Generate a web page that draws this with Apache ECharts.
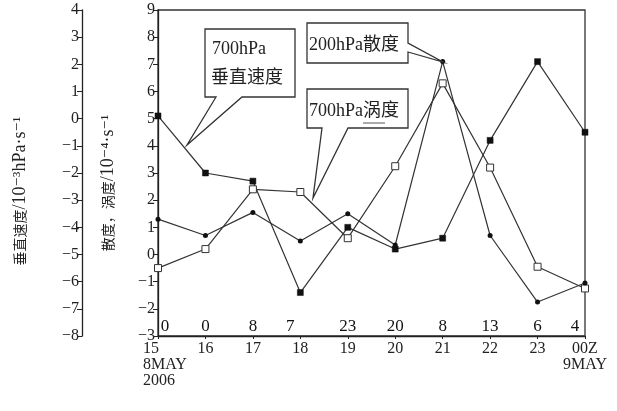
<!DOCTYPE html>
<html>
<head>
<meta charset="utf-8">
<script src="https://cdn.jsdelivr.net/npm/echarts@6/dist/echarts.min.js"></script>
<style>
html,body{margin:0;padding:0;background:#fff;}
#c{width:617px;height:411px;}
</style>
</head>
<body>
<div id="c"></div>
<script>
// ---- data ----
var categories = ['15','16','17','18','19','20','21','22','23','00Z'];
var dateNotes = ['8MAY\n2006','','','','','','','','','9MAY'];
// 700hPa vertical velocity (10^-3 hPa/s), left axis
var vertVel = [0.1, -2.0, -2.3, -6.4, -4.0, -4.8, -4.4, -0.8, 2.1, -0.5];
// 700hPa vorticity (10^-4 /s)
var vort700 = [-0.5, 0.2, 2.4, 2.3, 0.6, 3.25, 6.3, 3.2, -0.45, -1.25];
// 200hPa divergence (10^-4 /s)
var div200 = [1.3, 0.7, 1.55, 0.5, 1.5, 0.35, 7.1, 0.7, -1.75, -1.05];
// numbers printed along the bottom of the plot
var bottomNums = [0, 0, 8, 7, 23, 20, 8, 13, 6, 4];

var serif = '"Liberation Serif","DejaVu Serif",serif';
var cjk = '"Liberation Serif","Noto Sans CJK SC",serif';
var ink = '#222';
var lineCol = '#333';

var chart = echarts.init(document.getElementById('c'));

var xData = categories.map(function(c, i){
  var txt = dateNotes[i] ? c + '\n' + dateNotes[i] : c;
  if (i === 0) return {value: txt, textStyle: {align: 'left', padding: [0,0,0,-15]}};
  return {value: txt};
});

var numOffsets = {0: [7, 0], 3: [-10, 0], 9: [-10, 0]};
var numData = bottomNums.map(function(v, i){
  return {value: [i, -3], label: {offset: numOffsets[i] || [0, 0]}};
});

function axisNameRich(cjkPart, latinPart){
  return {
    text: '{a|' + cjkPart + '}{b|' + latinPart + '}',
    rich: {
      a: {fontFamily: '"Noto Sans CJK SC",serif', fontSize: 14, fill: ink},
      b: {fontFamily: serif, fontSize: 18, fill: ink}
    },
    fill: ink, align: 'center', verticalAlign: 'middle'
  };
}

var negFmt = function(v){ return v < 0 ? '\u2212' + Math.abs(v) : String(v); };

var option = {
  animation: false,
  grid: {left: 158, right: 32, top: 10, bottom: 75, show: true, borderColor: lineCol, borderWidth: 1.3, backgroundColor: 'transparent'},
  xAxis: {
    type: 'category', boundaryGap: false, data: xData,
    axisLine: {onZero: false, lineStyle: {color: ink, width: 1.3}},
    axisTick: {show: true, length: 3, inside: false, lineStyle: {color: ink}},
    axisLabel: {interval: 0, color: ink, fontFamily: serif, fontSize: 16, lineHeight: 16, margin: 5},
    splitLine: {show: false}
  },
  yAxis: [
    {
      type: 'value', min: -3, max: 9, interval: 1, position: 'left',
      axisLine: {show: true, onZero: false, lineStyle: {color: ink, width: 1.3}},
      axisTick: {show: true, length: 5, lineStyle: {color: ink}},
      axisLabel: {color: ink, fontFamily: serif, fontSize: 16, margin: 3, formatter: negFmt},
      splitLine: {show: false}
    },
    {
      type: 'value', min: -8, max: 4, interval: 1, position: 'left', offset: 76,
      axisLine: {show: true, onZero: false, lineStyle: {color: ink, width: 1.3}},
      axisTick: {show: true, length: 5, lineStyle: {color: ink}},
      axisLabel: {color: ink, fontFamily: serif, fontSize: 16, margin: 3, formatter: negFmt},
      splitLine: {show: false}
    }
  ],
  series: [
    {
      name: '700hPa垂直速度', type: 'line', yAxisIndex: 1, data: vertVel,
      symbol: 'rect', symbolSize: 6, showAllSymbol: true,
      lineStyle: {color: lineCol, width: 1.2},
      itemStyle: {color: '#111', borderColor: '#111', borderWidth: 0.5},
      z: 3
    },
    {
      name: '700hPa涡度', type: 'line', yAxisIndex: 0, data: vort700,
      symbol: 'rect', symbolSize: 7, showAllSymbol: true,
      lineStyle: {color: lineCol, width: 1.2},
      itemStyle: {color: '#fff', borderColor: '#333', borderWidth: 1},
      z: 4
    },
    {
      name: '200hPa散度', type: 'line', yAxisIndex: 0, data: div200,
      symbol: 'circle', symbolSize: 5, showAllSymbol: true,
      lineStyle: {color: lineCol, width: 1.2},
      itemStyle: {color: '#111', borderColor: '#111', borderWidth: 0},
      z: 5
    },
    {
      type: 'scatter', yAxisIndex: 0, data: numData, silent: true,
      symbol: 'circle', symbolSize: 1, itemStyle: {color: 'rgba(0,0,0,0)', opacity: 1},
      label: {show: true, position: 'top', distance: 0, color: '#111', opacity: 1, fontFamily: serif, fontSize: 17,
        formatter: function(p){ return String(bottomNums[p.dataIndex]); }},
      z: 6
    }
  ],
  graphic: [
    {type: 'text', x: 20, y: 191, rotation: Math.PI / 2, z: 10,
      style: axisNameRich('垂直速度', '/10\u207B\u00B3hPa\u00B7s\u207B\u00B9')},
    {type: 'text', x: 108, y: 183, rotation: Math.PI / 2, z: 10,
      style: axisNameRich('散度，涡度', '/10\u207B\u2074\u00B7s\u207B\u00B9')},
    // callout: 700hPa vertical velocity
    {type: 'polygon', z: 20,
      shape: {points: [[205,29],[295,29],[295,97],[242,97],[187,145],[216,97],[205,97]]},
      style: {fill: '#fff', stroke: '#333', lineWidth: 1.3}},
    {type: 'text', x: 212, y: 49, z: 21,
      style: {text: '700hPa', fill: ink, font: '18px ' + serif, align: 'left', verticalAlign: 'middle'}},
    {type: 'text', x: 211, y: 78, z: 21,
      style: {text: '垂直速度', fill: ink, font: '18px ' + cjk, align: 'left', verticalAlign: 'middle'}},
    // callout: 200hPa divergence
    {type: 'polygon', z: 20,
      shape: {points: [[307,23],[408,23],[408,43],[443,62],[408,52],[408,63],[307,63]]},
      style: {fill: '#fff', stroke: '#333', lineWidth: 1.3}},
    {type: 'text', x: 309, y: 45, z: 21,
      style: {text: '200hPa散度', fill: ink, font: '18px ' + cjk, align: 'left', verticalAlign: 'middle'}},
    // callout: 700hPa vorticity
    {type: 'polygon', z: 20,
      shape: {points: [[307,89],[408,89],[408,128],[348,128],[313,198],[322,128],[307,128]]},
      style: {fill: '#fff', stroke: '#333', lineWidth: 1.3}},
    {type: 'text', x: 309, y: 111, z: 21,
      style: {text: '700hPa涡度', fill: ink, font: '18px ' + cjk, align: 'left', verticalAlign: 'middle'}},
    {type: 'line', z: 21, shape: {x1: 363, y1: 123, x2: 385, y2: 123}, style: {stroke: '#555', lineWidth: 1}}
  ]
};
chart.setOption(option);
</script>
</body>
</html>
